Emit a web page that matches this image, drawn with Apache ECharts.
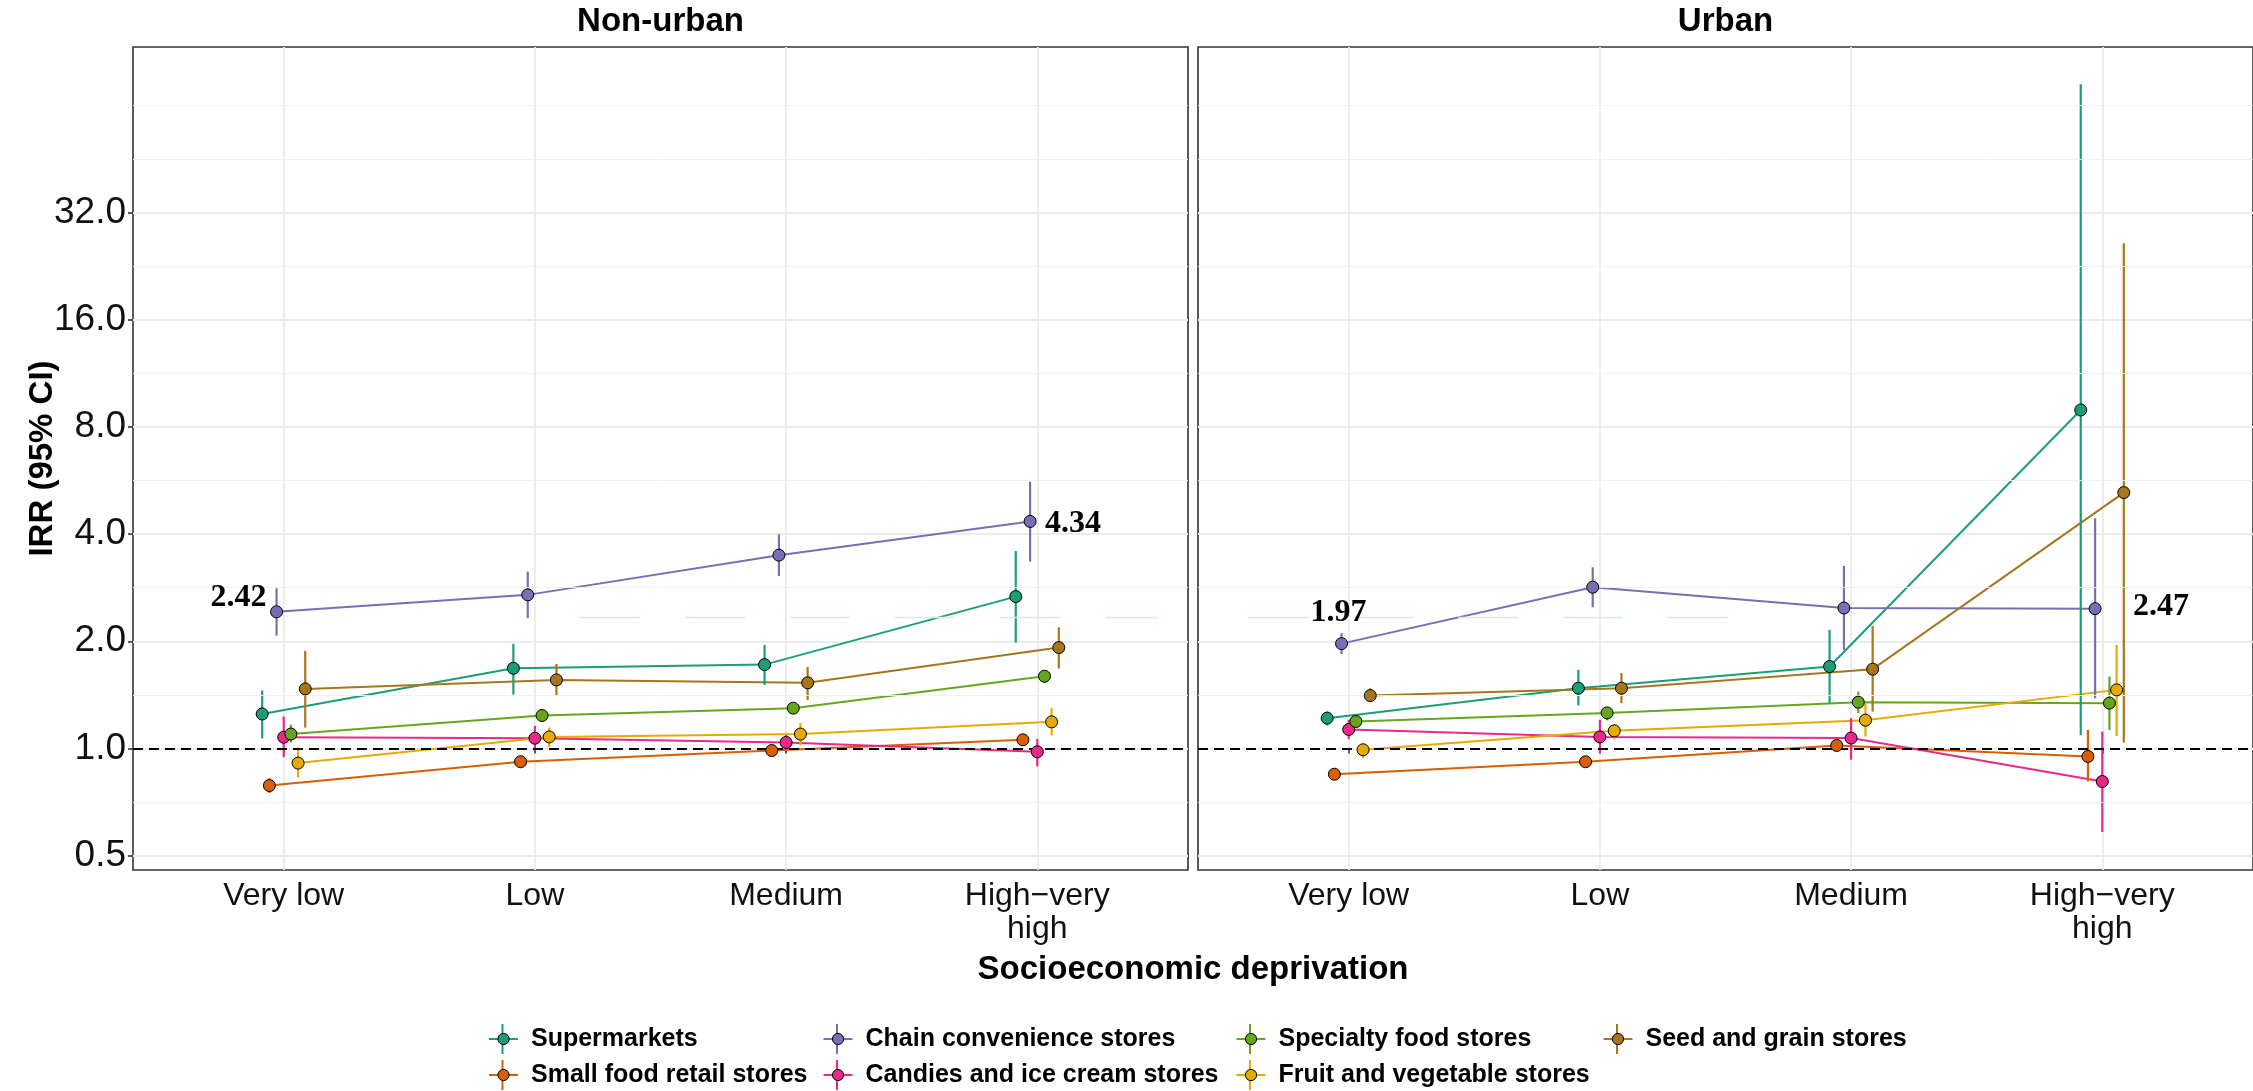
<!DOCTYPE html>
<html><head><meta charset="utf-8">
<script src="https://cdn.jsdelivr.net/npm/echarts@6/dist/echarts.min.js"></script>
<style>html,body{margin:0;padding:0;background:#fff}#c{width:2253px;height:1091px}</style>
</head><body><div id="c"></div>
<script>
// ---------------- DATA ----------------
const categories = ["Very low", "Low", "Medium", "High\u2212very\nhigh"];
const panels = ["Non-urban", "Urban"];
const storeTypes = ["Supermarkets", "Small food retail stores", "Chain convenience stores",
  "Candies and ice cream stores", "Specialty food stores", "Fruit and vegetable stores", "Seed and grain stores"];
const yTickValues = [0.5, 1, 2, 4, 8, 16, 32];
const yTickLabels = ["0.5", "1.0", "2.0", "4.0", "8.0", "16.0", "32.0"];
const yMinorValues = [0.7071, 1.4142, 2.8284, 5.6569, 11.3137, 22.6274, 45.2548, 64];
const referenceIRR = 1;

// IRR estimates, rows = storeTypes, columns = categories
const nonUrbanIRR = [
  [1.25, 1.68, 1.72, 2.67],
  [0.787, 0.918, 0.987, 1.058],
  [2.42, 2.70, 3.49, 4.34],
  [1.076, 1.069, 1.04, 0.979],
  [1.098, 1.238, 1.298, 1.596],
  [0.91, 1.078, 1.098, 1.188],
  [1.47, 1.558, 1.529, 1.92]
];
const nonUrbanLower = [
  [1.067, 1.417, 1.509, 1.984],
  [0.75, 0.895, 0.962, 1.032],
  [2.075, 2.322, 3.05, 3.347],
  [0.946, 0.987, 0.987, 0.89],
  [1.04, 1.205, 1.262, 1.526],
  [0.829, 1.009, 1.02, 1.088],
  [1.145, 1.408, 1.37, 1.677]
];
const nonUrbanUpper = [
  [1.454, 1.967, 1.954, 3.586],
  [0.826, 0.942, 1.012, 1.085],
  [2.818, 3.138, 3.995, 5.61],
  [1.23, 1.158, 1.093, 1.065],
  [1.166, 1.272, 1.335, 1.66],
  [1.009, 1.145, 1.178, 1.298],
  [1.88, 1.728, 1.695, 2.19]
];
const urbanIRR = [
  [1.217, 1.477, 1.699, 8.92],
  [0.847, 0.918, 1.02, 0.95],
  [1.97, 2.837, 2.48, 2.47],
  [1.131, 1.078, 1.07, 0.808],
  [1.191, 1.259, 1.349, 1.341],
  [0.992, 1.121, 1.201, 1.461],
  [1.408, 1.477, 1.67, 5.23]
];
const urbanLower = [
  [1.16, 1.32, 1.341, 1.09],
  [0.83, 0.895, 0.99, 0.808],
  [1.84, 2.493, 1.892, 1.385],
  [1.063, 0.971, 0.93, 0.583],
  [1.16, 1.20, 1.257, 1.128],
  [0.94, 1.06, 1.08, 1.085],
  [1.35, 1.341, 1.27, 1.04]
];
const urbanUpper = [
  [1.27, 1.663, 2.153, 73.2],
  [0.865, 0.94, 1.05, 1.128],
  [2.108, 3.227, 3.255, 4.43],
  [1.204, 1.204, 1.217, 1.116],
  [1.22, 1.30, 1.445, 1.592],
  [1.03, 1.17, 1.335, 1.954],
  [1.477, 1.628, 2.21, 26.2]
];
const faintLineIRR = 2.34;

// ---------------- STYLE / BUILD ----------------
const colors = ["#1B9E77", "#D95F02", "#7570B3", "#E7298A", "#66A61E", "#E6AB02", "#A6761D"];
const FONT = '"Liberation Sans", Arial, Helvetica, sans-serif';
const SERIF = '"Liberation Serif", "Times New Roman", serif';
const log2 = Math.log2;
const yMin = log2(0.456), yMax = log2(93.2);
const dodge = 0.2 / 7;
const panelData = [
  {est: nonUrbanIRR, lo: nonUrbanLower, hi: nonUrbanUpper},
  {est: urbanIRR, lo: urbanLower, hi: urbanUpper}
];
// label placement for the annotated chain-convenience points (style only)
const labelStyles = {
  "0-2-0": {align: 'right', offset: [-10, -14]},
  "0-2-3": {align: 'left', offset: [15, 2]},
  "1-2-0": {align: 'center', offset: [-3, -31]},
  "1-2-3": {align: 'left', offset: [38, -2]}
};

const gridLeft = [133, 1198];
const grids = gridLeft.map(l => ({left: l, top: 47, width: 1055, height: 823, show: true,
  borderColor: '#333333', borderWidth: 1.6, backgroundColor: '#ffffff', containLabel: false}));

const xCustom = categories.map((c, i) => i + 1);
const yCustom = yTickValues.map(log2);

const xAxes = [0, 1].map(p => ({
  type: 'value', gridIndex: p, min: 0.4, max: 4.6,
  axisLine: {show: false},
  axisTick: {show: true, length: 5, inside: false, lineStyle: {color: '#333333', width: 1.6}, customValues: xCustom},
  axisLabel: {show: true, customValues: xCustom, formatter: v => categories[Math.round(v) - 1],
    fontSize: 32, color: '#111', fontFamily: FONT, margin: 10, lineHeight: 33},
  splitLine: {show: true, lineStyle: {color: '#EBEBEB', width: 1.8}}
}));
const yAxes = [0, 1].map(p => ({
  type: 'value', gridIndex: p, min: yMin, max: yMax,
  axisLine: {show: false},
  axisTick: {show: p === 0, length: 5, lineStyle: {color: '#333333', width: 1.6}, customValues: yCustom},
  axisLabel: {show: p === 0, customValues: yCustom,
    formatter: v => { let k = 0, b = 1e9; yCustom.forEach((t, i) => { if (Math.abs(t - v) < b) { b = Math.abs(t - v); k = i; } }); return yTickLabels[k]; },
    fontSize: 37, color: '#111', fontFamily: FONT, margin: 7},
  splitLine: {show: true, lineStyle: {color: '#EBEBEB', width: 1.8}},
  name: p === 0 ? 'IRR (95% CI)' : '', nameLocation: 'middle', nameGap: 74, nameMoveOverlap: false,
  nameTextStyle: {fontSize: 33, fontWeight: 'bold', color: '#000', fontFamily: FONT}
}));

const series = [];
// helper: minor gridlines, reference line, faint line
[0, 1].forEach(p => {
  series.push({
    type: 'line', name: '_grid' + p, xAxisIndex: p, yAxisIndex: p, data: [], silent: true, z: 1,
    markLine: {silent: true, symbol: 'none', label: {show: false}, animation: false,
      lineStyle: {color: '#EFEFEF', width: 0.9, type: 'solid'},
      data: yMinorValues.map(v => ({yAxis: log2(v)}))}
  });
  const faintSeg = p === 0 ? [2.18, 4.48] : [0.6, 2.64];
  series.push({
    type: 'line', name: '_ref' + p, xAxisIndex: p, yAxisIndex: p, data: [], silent: true, z: 2,
    markLine: {silent: true, symbol: 'none', label: {show: false}, animation: false,
      data: [
        {yAxis: log2(referenceIRR), lineStyle: {color: '#000', width: 2, type: [10, 6]}},
        [{coord: [faintSeg[0], log2(faintLineIRR)], lineStyle: {color: '#d3ecec', width: 1.4, type: [60, 45]}},
         {coord: [faintSeg[1], log2(faintLineIRR)]}]
      ]}
  });
});
// data lines
[0, 1].forEach(p => {
  storeTypes.forEach((name, s) => {
    const off = (s - 3) * dodge;
    series.push({
      type: 'line', name: name, xAxisIndex: p, yAxisIndex: p, z: 3, silent: true,
      symbol: 'circle', showSymbol: false, symbolSize: 12,
      itemStyle: {color: colors[s], borderColor: '#000', borderWidth: 1},
      lineStyle: {color: colors[s], width: 2},
      data: panelData[p].est[s].map((v, c) => [c + 1 + off, log2(v)])
    });
  });
});
// error bars
[0, 1].forEach(p => {
  storeTypes.forEach((name, s) => {
    const off = (s - 3) * dodge;
    series.push({
      type: 'custom', name: name, xAxisIndex: p, yAxisIndex: p, z: 4, silent: true,
      encode: {x: 0, y: [1, 2]},
      data: panelData[p].lo[s].map((v, c) => [c + 1 + off, log2(v), log2(panelData[p].hi[s][c])]),
      renderItem: (params, api) => {
        const a = api.coord([api.value(0), api.value(1)]);
        const b = api.coord([api.value(0), api.value(2)]);
        return {type: 'line', shape: {x1: a[0], y1: a[1], x2: b[0], y2: b[1]},
          style: {stroke: colors[s], lineWidth: 2.2}};
      }
    });
  });
});
// points
[0, 1].forEach(p => {
  storeTypes.forEach((name, s) => {
    const off = (s - 3) * dodge;
    series.push({
      type: 'scatter', name: name, xAxisIndex: p, yAxisIndex: p, z: 5, silent: true,
      symbol: 'circle', symbolSize: 12,
      itemStyle: {color: colors[s], borderColor: '#000', borderWidth: 1, opacity: 1},
      data: panelData[p].est[s].map((v, c) => {
        const item = {value: [c + 1 + off, log2(v)]};
        const ls = labelStyles[p + '-' + s + '-' + c];
        if (ls) {
          item.label = {show: true, position: 'inside', formatter: v.toFixed(2), align: ls.align,
            verticalAlign: 'middle', offset: ls.offset, fontFamily: SERIF, fontWeight: 'bold',
            fontSize: 32, color: '#000'};
        }
        return item;
      })
    });
  });
});

// legend (4 columns x 2 rows, filled by column)
const legendKeyX = [502.5, 837, 1250, 1617];
const legendRowY = [1039, 1075];
const legends = storeTypes.map((name, k) => {
  const col = Math.floor(k / 2), row = k % 2;
  return {
    data: [name], orient: 'horizontal', left: legendKeyX[col] - 14.5, top: legendRowY[row] - 12.5,
    padding: 0, itemWidth: 29, itemHeight: 14, selectedMode: false,
    itemStyle: {borderColor: '#000', borderWidth: 1},
    lineStyle: {width: 2},
    textStyle: {fontSize: 25, fontWeight: 'bold', fontFamily: FONT, color: '#000', padding: [0, 0, 0, 8]}
  };
});
const legendBars = storeTypes.map((name, k) => {
  const col = Math.floor(k / 2), row = k % 2;
  return {type: 'line', z: 1, silent: true,
    shape: {x1: legendKeyX[col], y1: legendRowY[row] - 15, x2: legendKeyX[col], y2: legendRowY[row] + 15},
    style: {stroke: colors[k], lineWidth: 2}};
});

const titles = [
  {text: panels[0], left: 660.5, top: 5, textAlign: 'center', padding: 0,
    textStyle: {fontSize: 33, fontWeight: 'bold', fontFamily: FONT, color: '#000'}},
  {text: panels[1], left: 1725.5, top: 5, textAlign: 'center', padding: 0,
    textStyle: {fontSize: 33, fontWeight: 'bold', fontFamily: FONT, color: '#000'}},
  {text: 'Socioeconomic deprivation', left: 1193, top: 953, textAlign: 'center', padding: 0,
    textStyle: {fontSize: 33, fontWeight: 'bold', fontFamily: FONT, color: '#000'}}
];

const chart = echarts.init(document.getElementById('c'), null, {renderer: 'canvas'});
chart.setOption({
  animation: false,
  backgroundColor: '#ffffff',
  title: titles,
  grid: grids,
  xAxis: xAxes,
  yAxis: yAxes,
  legend: legends,
  graphic: {elements: legendBars},
  series: series
});
</script>
</body></html>
